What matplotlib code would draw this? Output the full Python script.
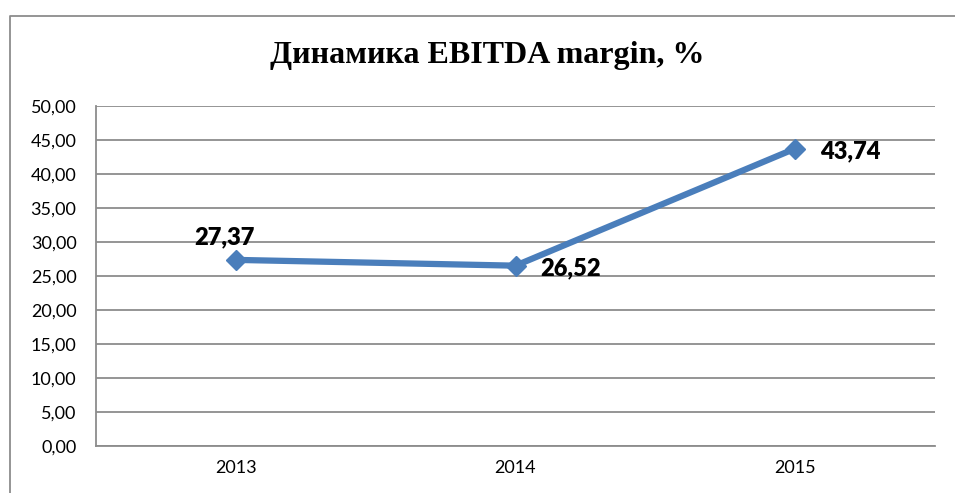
import matplotlib.pyplot as plt
from matplotlib.lines import Line2D
from matplotlib.ticker import FuncFormatter

years = ['2013', '2014', '2015']
margin = [27.37, 26.52, 43.74]
label_offsets = [(-8, 16), (40, -2), (40, -2)]

W, H = 955, 493
fig = plt.figure(figsize=(W / 100, H / 100), dpi=100)
ax = fig.add_axes([96 / W, 1 - 446 / H, (935 - 96) / W, (446 - 106) / H])

x = range(len(years))
ax.plot(x, margin, color='#4A7EBB', linewidth=4.5, marker='D', markersize=10,
        solid_capstyle='round', zorder=3)

for i, v in enumerate(margin):
    ax.annotate(f'{v:.2f}'.replace('.', ','), (i, v), xytext=label_offsets[i],
                textcoords='offset points', ha='center', va='center',
                fontsize=17, fontweight='heavy', family='Lato')

ax.set_xlim(-0.5, 2.5)
ax.set_ylim(0, 50)
ax.set_yticks(range(0, 51, 5))
ax.yaxis.set_major_formatter(FuncFormatter(lambda v, p: f'{v:.2f}'.replace('.', ',')))
ax.set_xticks(list(x))
ax.set_xticklabels(years)
ax.tick_params(length=0, labelsize=13)
ax.tick_params(axis='y', pad=14)
ax.tick_params(axis='x', pad=10)
for lab in ax.get_xticklabels() + ax.get_yticklabels():
    lab.set_family('Lato')
ax.yaxis.grid(True, color='#8C8C8C', linewidth=1.3)
ax.set_axisbelow(True)
for s in ['top', 'right']:
    ax.spines[s].set_visible(False)
for s in ['left', 'bottom']:
    ax.spines[s].set_color('#8C8C8C')
    ax.spines[s].set_linewidth(1.3)

fig.text(487 / W, 1 - 56 / H, 'Динамика EBITDA margin, %', ha='center', va='center',
         fontsize=23, fontweight='bold', family='Liberation Serif')

# outer chart frame (only left and top edges visible)
fig.add_artist(Line2D([10 / W, 10 / W, 1], [0, 1 - 16 / H, 1 - 16 / H],
                      transform=fig.transFigure, color='#8C8C8C', linewidth=1.3))

fig.savefig('out.png', dpi=100)
